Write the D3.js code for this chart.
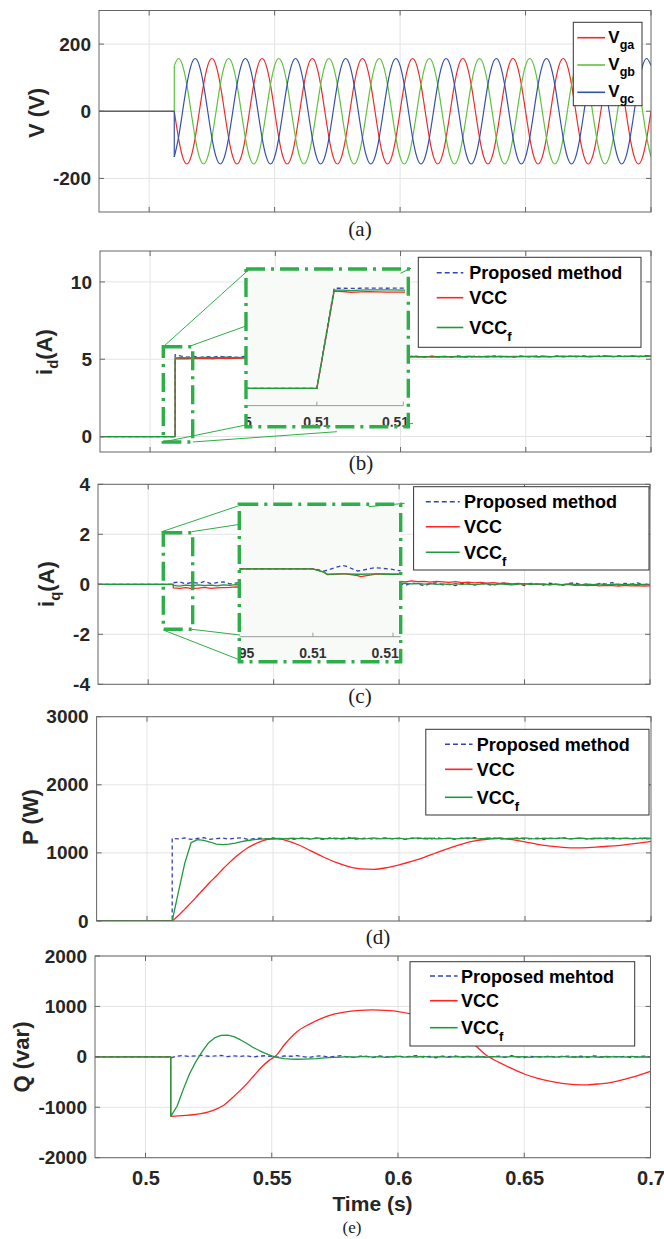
<!DOCTYPE html>
<html><head><meta charset="utf-8">
<script src="https://cdn.jsdelivr.net/npm/d3@7"></script>
<style>body{margin:0;background:#fff}svg{display:block}</style>
</head><body><svg id="c" width="664" height="1239"></svg>
<script>
// ---------------- DATA ----------------
const xDomain = [0.48, 0.70];
const xTickVals = [0.5, 0.55, 0.6, 0.65, 0.7];
const xTickLabels = ["0.5", "0.55", "0.6", "0.65", "0.7"];
const preT = [0.48, 0.51];             // all signals are zero before switching on

// (a) grid voltages, sampled every 1/600 s from 0.51 s
const vT0 = 0.51, vDt = 1 / 600;
const vga = [
0,-79,-136,-157,-136,-79,0,79,136,157,136,79,
0,-79,-136,-157,-136,-79,0,79,136,157,136,79,
0,-79,-136,-157,-136,-79,0,79,136,157,136,79,
0,-79,-136,-157,-136,-79,0,79,136,157,136,79,
0,-79,-136,-157,-136,-79,0,79,136,157,136,79,
0,-79,-136,-157,-136,-79,0,79,136,157,136,79,
0,-79,-136,-157,-136,-79,0,79,136,157,136,79,
0,-79,-136,-157,-136,-79,0,79,136,157,136,79,
0,-79,-136,-157,-136,-79,0,79,136,157,136,79,
0,-79,-136,-157,-136,-79,0];
const vgb = [
136,157,136,79,0,-79,-136,-157,-136,-79,0,79,
136,157,136,79,0,-79,-136,-157,-136,-79,0,79,
136,157,136,79,0,-79,-136,-157,-136,-79,0,79,
136,157,136,79,0,-79,-136,-157,-136,-79,0,79,
136,157,136,79,0,-79,-136,-157,-136,-79,0,79,
136,157,136,79,0,-79,-136,-157,-136,-79,0,79,
136,157,136,79,0,-79,-136,-157,-136,-79,0,79,
136,157,136,79,0,-79,-136,-157,-136,-79,0,79,
136,157,136,79,0,-79,-136,-157,-136,-79,0,79,
136,157,136,79,0,-79,-136];
const vgc = [
-136,-79,0,79,136,157,136,79,0,-79,-136,-157,
-136,-79,0,79,136,157,136,79,0,-79,-136,-157,
-136,-79,0,79,136,157,136,79,0,-79,-136,-157,
-136,-79,0,79,136,157,136,79,0,-79,-136,-157,
-136,-79,0,79,136,157,136,79,0,-79,-136,-157,
-136,-79,0,79,136,157,136,79,0,-79,-136,-157,
-136,-79,0,79,136,157,136,79,0,-79,-136,-157,
-136,-79,0,79,136,157,136,79,0,-79,-136,-157,
-136,-79,0,79,136,157,136,79,0,-79,-136,-157,
-136,-79,0,79,136,157,136];
const vTicks = [-200, 0, 200];

// sampling grid for (b)-(e) measured signals: 0.51 .. 0.70 s every 2.5 ms
const gT0 = 0.51, gDt = 0.0025;

// (b) i_d
const idProp = [
5.30,5.20,5.14,5.18,5.12,5.17,5.13,5.19,5.14,5.16,
5.12,5.18,5.15,5.13,5.19,5.14,5.17,5.12,5.18,5.15,
5.13,5.19,5.16,5.12,5.18,5.14,5.17,5.13,5.20,5.15,
5.12,5.18,5.16,5.13,5.19,5.15,5.17,5.13,5.21,5.16,
5.14,5.20,5.15,5.18,5.13,5.21,5.16,5.14,5.20,5.17,
5.15,5.22,5.16,5.19,5.14,5.21,5.17,5.15,5.22,5.18,
5.16,5.21,5.17,5.20,5.15,5.22,5.18,5.16,5.23,5.19,
5.17,5.22,5.18,5.21,5.16,5.23,5.20];
const idVcc = [
5.02,5.04,5.03,5.06,5.04,5.05,5.03,5.07,5.05,5.06,
5.06,5.08,5.07,5.09,5.08,5.10,5.09,5.11,5.10,5.12,
5.11,5.12,5.13,5.12,5.14,5.13,5.14,5.15,5.13,5.16,
5.14,5.15,5.17,5.15,5.16,5.14,5.17,5.15,5.18,5.16,
5.15,5.18,5.16,5.17,5.15,5.18,5.16,5.19,5.17,5.16,
5.18,5.17,5.19,5.16,5.18,5.17,5.19,5.18,5.16,5.19,
5.17,5.18,5.20,5.17,5.19,5.18,5.16,5.19,5.18,5.20,
5.17,5.19,5.18,5.20,5.18,5.19,5.20];
const idVccf = [
5.08,5.10,5.09,5.11,5.10,5.12,5.10,5.11,5.13,5.11,
5.12,5.10,5.13,5.12,5.11,5.14,5.12,5.13,5.11,5.14,
5.13,5.12,5.15,5.13,5.14,5.12,5.15,5.13,5.14,5.16,
5.13,5.15,5.14,5.16,5.13,5.15,5.17,5.14,5.16,5.15,
5.17,5.14,5.16,5.18,5.15,5.17,5.16,5.18,5.15,5.17,
5.19,5.16,5.18,5.17,5.15,5.18,5.17,5.19,5.16,5.18,
5.17,5.19,5.16,5.18,5.20,5.17,5.19,5.18,5.17,5.20,
5.18,5.19,5.17,5.20,5.18,5.19,5.21];
const idTicks = [0, 5, 10];
// (b) zoom inset
const idInsetT    = [0.50959, 0.51, 0.5101, 0.51015, 0.5102, 0.51025, 0.5103, 0.5104, 0.51051];
const idInsetProp = [0, 0, 5.20, 5.20, 5.19, 5.20, 5.21, 5.20, 5.21];
const idInsetVcc  = [0, 0, 5.05, 5.03, 4.98, 5.01, 5.02, 5.00, 5.00];
const idInsetVccf = [0, 0, 5.10, 5.10, 5.08, 5.10, 5.12, 5.11, 5.10];
const insetTicks = [0.5095, 0.51, 0.5105];
const insetTickLabels = ["0.5095", "0.51", "0.5105"];

// (c) i_q
const iqProp = [
0.06,0.10,0.02,0.08,0.04,0.12,0.03,0.07,0.10,0.02,
0.05,0.09,0.01,0.06,0.08,0.03,0.07,0.02,0.05,0.09,
0.03,0.06,-0.01,0.05,0.08,0.02,0.04,-0.02,0.06,0.03,
0.01,0.05,-0.03,0.04,0.07,0.00,0.03,-0.04,0.05,0.02,
-0.06,0.03,0.06,-0.02,0.01,-0.05,0.04,0.02,-0.03,0.05,
0.00,-0.04,0.03,0.06,-0.02,0.02,-0.05,0.04,0.01,-0.03,
0.05,0.00,-0.04,0.03,0.06,-0.02,0.02,-0.05,0.04,0.01,
0.07,-0.03,0.04,0.00,0.06,-0.02,0.03];
const iqVcc = [
-0.14,-0.16,-0.13,-0.17,-0.15,-0.12,-0.16,-0.14,-0.13,
-0.12,-0.10,-0.11,-0.08,-0.07,-0.05,-0.04,
-0.02,0,0.02,0.03,0.05,0.06,0.07,0.08,0.09,0.10,0.10,0.11,0.11,0.12,0.12,0.12,0.13,0.12,0.13,0.12,
0.13,0.10,0.14,0.11,0.12,0.09,0.12,0.10,0.08,0.11,
0.07,0.09,0.06,0.08,0.05,0.07,0.04,0.05,0.02,0.04,
0.01,0.03,0.00,0.02,-0.01,0.01,-0.03,0.00,-0.04,-0.02,
-0.05,-0.03,-0.06,-0.04,-0.05,-0.07,-0.04,-0.06,-0.05,-0.07,
-0.06];
const iqVccf = [
-0.04,-0.07,-0.03,-0.06,-0.02,-0.05,-0.03,-0.06,-0.02,-0.04,
-0.01,-0.03,0.00,-0.02,0.01,-0.01,0.02,0.00,0.01,0.03,
0.01,0.02,0.00,0.03,0.01,0.02,0.04,0.01,0.03,0.02,
0.04,0.02,0.05,0.03,0.04,0.06,0.03,0.05,0.02,0.04,
0.01,0.03,0.00,0.02,-0.01,0.03,0.00,0.02,-0.02,0.01,
0.03,-0.01,0.02,0.00,-0.02,0.01,0.03,-0.01,0.02,0.00,
-0.02,0.01,-0.01,0.02,0.00,-0.03,0.01,-0.01,0.02,-0.02,
0.00,0.01,-0.02,0.01,-0.01,0.00,-0.01];
const iqTicks = [-4, -2, 0, 2, 4];
const iqInsetT    = [0.50954, 0.51, 0.510069, 0.51009, 0.510184, 0.510205, 0.510279, 0.510299, 0.510383, 0.510393, 0.510487, 0.51055];
const iqInsetProp = [0, 0, -0.065, -0.04, 0.10, 0.08, -0.065, -0.05, 0.03, 0.03, -0.01, -0.06];
const iqInsetVcc  = [0, 0, -0.10, -0.17, -0.15, -0.15, -0.20, -0.23, -0.16, -0.15, -0.16, -0.16];
const iqInsetVccf = [0, 0, -0.10, -0.16, -0.15, -0.15, -0.16, -0.16, -0.15, -0.15, -0.16, -0.155];

// (d) active power
const pProp = [
1215,1205,1220,1198,1212,1225,1200,1210,1218,1203,
1214,1222,1199,1209,1216,1204,1220,1207,1213,1198,
1211,1223,1205,1215,1200,1219,1208,1212,1226,1203,
1210,1217,1201,1214,1221,1206,1212,1199,1218,1209,
1215,1203,1222,1208,1213,1200,1217,1210,1224,1205,
1212,1219,1202,1214,1208,1222,1204,1211,1217,1200,
1215,1209,1223,1206,1213,1219,1203,1210,1216,1207,
1221,1205,1214,1209,1218,1204,1212];
const pVccf = [
0,430,850,1150,1195,1185,1160,1128,1122,1128,1145,1165,1182,1195,1203,1206,1208,
1212,1205,1218,1209,1214,1203,1220,1208,1211,1216,
1204,1213,1219,1207,1210,1222,1206,1214,1209,1217,
1203,1212,1220,1208,1215,1205,1211,1218,1207,1213,
1221,1209,1204,1216,1210,1219,1206,1213,1208,1222,
1211,1205,1217,1209,1214,1220,1207,1212,1218,1206,
1215,1210,1221,1208,1213,1217,1205,1211,1219,1214];
const pVccT = [0.51,0.5125,0.515,0.5175,0.52,0.5225,0.525,0.5275,0.53,0.5325,0.535,0.5375,0.54,0.5425,0.545,0.5475,0.55,0.5525,0.555,
  0.56,0.565,0.57,0.575,0.58,0.585,0.59,0.595,0.6,0.605,0.61,0.615,0.62,0.625,0.63,0.635,0.64,0.645,0.65,0.655,0.66,0.665,0.67,0.675,0.68,0.685,0.69,0.695,0.7];
const pVcc = [0,80,175,270,370,470,570,660,760,850,935,1010,1075,1125,1165,1195,1208,1205,1185,
  1120,1030,940,860,800,765,758,782,825,875,935,1005,1070,1130,1175,1200,1212,1195,1162,1125,1098,1082,1074,1078,1090,1102,1122,1145,1168];
const pTicks = [0, 1000, 2000, 3000];

// (e) reactive power
const qProp = [
-20,15,25,8,22,30,12,18,28,5,
20,10,25,-5,15,22,8,-8,18,12,
25,3,-10,15,20,-5,10,22,0,-12,
15,8,-15,20,5,-8,18,-3,12,25,
-5,10,-18,15,3,20,-10,8,-2,18,
-12,5,15,-8,22,0,-15,10,4,-6,
18,-10,8,15,-4,12,-12,20,2,-8,
14,-5,10,-15,6,16,-3];
const qVccf = [
-1180,-980,-640,-330,-90,110,280,380,425,430,
400,340,270,190,125,70,20,-15,-35,-45,
-48,-45,-40,-35,-25,-15,-10,
-5,5,-8,3,10,-4,6,-10,2,8,
-6,4,-3,9,-7,1,6,-9,3,-2,
7,-5,2,-8,5,0,-6,8,-3,4,
-9,6,-1,3,-7,9,-4,2,-6,5,
0,-8,7,-2,4,-5,8,-3,1,-6];
const qVccT = [0.51,0.513,0.516,0.519,0.522,0.525,0.528,0.531,0.534,0.537,0.54,0.543,0.546,0.549,0.552,0.555,
  0.56,0.565,0.57,0.575,0.58,0.585,0.59,0.595,0.6,0.605,0.61,0.615,0.62,0.625,0.63,0.635,0.64,0.645,0.65,0.655,0.66,0.665,0.67,0.675,0.68,0.685,0.69,0.695,0.7];
const qVcc = [-1180,-1172,-1162,-1148,-1125,-1090,-1035,-960,-830,-690,-540,-370,-200,-70,40,240,
  500,650,766,850,897,922,931,920,897,850,766,665,545,410,250,30,-110,-230,-340,-420,-480,-525,-550,-555,-535,-500,-440,-370,-290];
const qTicks = [-2000, -1000, 0, 1000, 2000];

// zoom annotations (main-axis data coordinates)
const idZoomBox   = [0.50527, 0.51701, -0.353, 5.81];
const idInsetBox  = [0.53829, 0.6031, 0.636, 10.836];
const idConnectors = [
  [[0.50527, 5.81], [0.54029, 10.92]],
  [[0.51526, 5.81], [0.5383, 7.15]],
  [[0.50527, -0.353], [0.5382, 0.746]],
  [[0.51705, -0.353], [0.57459, 0.313]],
  [[0.59994, 10.56], [0.60418, 10.88]],
  [[0.6025, 0.79], [0.60498, 0.856]]];
const iqZoomBox   = [0.50602, 0.51774, -1.8, 2.064];
const iqInsetBox  = [0.53631, 0.60064, -3.096, 3.2];
const iqConnectors = [
  [[0.50539, 2.104], [0.53898, 3.24]],
  [[0.51734, 2.104], [0.53659, 2.4]],
  [[0.50602, -1.828], [0.53659, -3.028]],
  [[0.51734, -1.8], [0.53659, -2.028]],
  [[0.58785, 3.104], [0.60223, 3.24]]];

const legendNames = ["Proposed method", "VCC", "VCC"];
const legendNamesE = ["Proposed mehtod", "VCC", "VCC"];

// ---------------- DRAWING ----------------
const svg = d3.select('#c');
const FONT = '"Liberation Sans", Arial, Helvetica, sans-serif';
const SERIF = '"Liberation Serif", "Times New Roman", serif';
const AXC = '#666', GRIDC = '#e4e4e4', TXT = '#262626';
const C_RED = '#ff2424', C_GREEN = '#1e9a3c', C_BLUE = '#3444b4';
const C_VA = '#ee2a2a', C_VB = '#5ec23c', C_VC = '#3450aa';
const ZC = '#2eae48';
let clipId = 0;

const gridSeries = vals => vals.map((v, i) => [gT0 + i * gDt, v]);
const zip = (ts, vs) => ts.map((t, i) => [t, vs[i]]);
const pre = () => preT.map(t => [t, 0]);

function makePanel(p) {
  const x = d3.scaleLinear().domain(xDomain).range([p.left, p.right]);
  const y = d3.scaleLinear().domain(p.yDomain).range([p.bottom, p.top]);
  const g = svg.append('g');
  g.append('g').selectAll('line').data(xTickVals.slice(0, 4)).join('line')
    .attr('x1', d => x(d)).attr('x2', d => x(d)).attr('y1', p.top).attr('y2', p.bottom)
    .attr('stroke', GRIDC).attr('stroke-width', 1);
  g.append('g').selectAll('line').data(p.yTicks).join('line')
    .attr('x1', p.left).attr('x2', p.right).attr('y1', d => y(d)).attr('y2', d => y(d))
    .attr('stroke', GRIDC).attr('stroke-width', 1);
  const id = 'clp' + (clipId++);
  svg.append('clipPath').attr('id', id).append('rect')
    .attr('x', p.left).attr('y', p.top).attr('width', p.right - p.left).attr('height', p.bottom - p.top);
  const data = g.append('g').attr('clip-path', `url(#${id})`);
  return { x, y, g, data, p };
}

function drawLine(P, pts, color, o = {}, layer) {
  const line = d3.line().x(d => P.x(d[0])).y(d => P.y(d[1])).curve(o.curve || d3.curveLinear);
  (layer || P.data).append('path').attr('d', line(pts)).attr('fill', 'none')
    .attr('stroke', color).attr('stroke-width', o.w || 1.3)
    .attr('stroke-dasharray', o.dash || null).attr('stroke-linejoin', 'round');
}

function finishPanel(P, xLabels) {
  const { x, y, g, p } = P;
  const f = g.append('g');
  f.append('rect').attr('x', p.left).attr('y', p.top).attr('width', p.right - p.left).attr('height', p.bottom - p.top)
    .attr('fill', 'none').attr('stroke', AXC).attr('stroke-width', 1);
  p.yTicks.forEach(v => {
    f.append('line').attr('x1', p.left).attr('x2', p.left + 5).attr('y1', y(v)).attr('y2', y(v)).attr('stroke', AXC);
    f.append('line').attr('x1', p.right - 5).attr('x2', p.right).attr('y1', y(v)).attr('y2', y(v)).attr('stroke', AXC);
  });
  xTickVals.forEach(v => {
    f.append('line').attr('x1', x(v)).attr('x2', x(v)).attr('y1', p.bottom).attr('y2', p.bottom - 5).attr('stroke', AXC);
    f.append('line').attr('x1', x(v)).attr('x2', x(v)).attr('y1', p.top).attr('y2', p.top + 5).attr('stroke', AXC);
  });
  const ay = f.append('g').attr('transform', `translate(${p.left},0)`)
    .call(d3.axisLeft(y).tickValues(p.yTicks).tickFormat(d => String(d)).tickSize(0).tickPadding(8));
  ay.select('.domain').remove();
  ay.selectAll('text').attr('font-family', FONT).attr('font-weight', 'bold').attr('font-size', 19).attr('fill', TXT);
  if (xLabels) {
    const ax = f.append('g').attr('transform', `translate(0,${p.bottom})`)
      .call(d3.axisBottom(x).tickValues(xTickVals).tickFormat((d, i) => xLabels[i]).tickSize(0).tickPadding(13));
    ax.select('.domain').remove();
    ax.selectAll('text').attr('font-family', FONT).attr('font-weight', 'bold').attr('font-size', 20).attr('fill', TXT);
  }
}

function yLabel(cx, cy, parts) {
  const t = svg.append('text').attr('transform', `translate(${cx},${cy}) rotate(-90)`)
    .attr('text-anchor', 'middle').attr('font-family', FONT).attr('font-weight', 'bold')
    .attr('font-size', 22).attr('fill', TXT);
  parts.forEach(pt => {
    t.append('tspan').text(pt.t).attr('font-size', pt.fs || null).attr('dy', pt.dy || null);
  });
}

function panelLabel(cx, base, s, fs) {
  svg.append('text').attr('x', cx).attr('y', base).attr('text-anchor', 'middle')
    .attr('font-family', SERIF).attr('font-size', fs || 21).attr('fill', '#1a1a1a').text(s);
}

function legend(L) {
  const g = svg.append('g');
  g.append('rect').attr('x', L.box[0]).attr('y', L.box[1]).attr('width', L.box[2] - L.box[0]).attr('height', L.box[3] - L.box[1])
    .attr('fill', '#fff').attr('stroke', '#333').attr('stroke-width', 1);
  L.rows.forEach(r => {
    g.append('line').attr('x1', L.lx[0]).attr('x2', L.lx[1]).attr('y1', r.y).attr('y2', r.y)
      .attr('stroke', r.color).attr('stroke-width', 1.6).attr('stroke-dasharray', r.dash || null);
    const t = g.append('text').attr('x', L.tx).attr('y', r.y + L.dy).attr('font-family', FONT)
      .attr('font-weight', 'bold').attr('font-size', L.fs).attr('fill', '#000');
    t.append('tspan').text(r.label);
    if (r.sub) t.append('tspan').text(r.sub).attr('font-size', L.subFs).attr('dy', L.subDy);
  });
}

function dashRect(layer, x0, y0, x1, y1) {
  layer.append('rect').attr('x', x0).attr('y', y0).attr('width', x1 - x0).attr('height', y1 - y0)
    .attr('fill', 'none').attr('stroke', ZC).attr('stroke-width', 3.4).attr('stroke-dasharray', '19,6,3,6');
}

function drawInset(P, I) {
  const [t0, t1, v0, v1] = I.box;
  const [T0, T1, V0, V1] = I.inset;
  const bx0 = P.x(T0), bx1 = P.x(T1), by0 = P.y(V1), by1 = P.y(V0);
  const g = P.g.append('g');
  g.append('rect').attr('x', bx0).attr('y', by0).attr('width', bx1 - bx0).attr('height', by1 - by0).attr('fill', '#f8faf8');
  const axY = P.y(I.axisV);
  const ix = d3.scaleLinear().domain(I.xDomain).range([bx0, P.x(I.axisT1)]);
  const iy = d3.scaleLinear().domain(I.yDomain).range([axY, by0]);
  const id = 'clp' + (clipId++);
  svg.append('clipPath').attr('id', id).append('rect').attr('x', bx0).attr('y', by0).attr('width', bx1 - bx0).attr('height', by1 - by0);
  const ig = g.append('g').attr('clip-path', `url(#${id})`);
  ig.append('line').attr('x1', bx0).attr('x2', P.x(I.axisT1)).attr('y1', axY).attr('y2', axY).attr('stroke', '#9a9a9a');
  I.ticks.forEach((t, i) => {
    ig.append('line').attr('x1', ix(t)).attr('x2', ix(t)).attr('y1', axY).attr('y2', axY - 4).attr('stroke', '#9a9a9a');
    ig.append('text').attr('x', ix(t)).attr('y', axY + 21).attr('text-anchor', 'middle').attr('font-family', FONT)
      .attr('font-weight', 'bold').attr('font-size', 14).attr('fill', '#333').text(I.tickLabels[i]);
  });
  const line = d3.line().x(d => ix(d[0])).y(d => iy(d[1]));
  I.series.forEach(s => {
    ig.append('path').attr('d', line(zip(I.t, s.v))).attr('fill', 'none').attr('stroke', s.color)
      .attr('stroke-width', 1.3).attr('stroke-dasharray', s.dash || null);
  });
  I.connectors.forEach(c => {
    g.append('line').attr('x1', P.x(c[0][0])).attr('y1', P.y(c[0][1])).attr('x2', P.x(c[1][0])).attr('y2', P.y(c[1][1]))
      .attr('stroke', ZC).attr('stroke-width', 1);
  });
  dashRect(g, P.x(t0), P.y(v1), P.x(t1), P.y(v0));
  dashRect(g, bx0, by0, bx1, by1);
}

// ----- (a) -----
const A = makePanel({ left: 99, right: 651, top: 10.5, bottom: 212, yDomain: [-300, 300], yTicks: vTicks });
[[vga, C_VA], [vgb, C_VB], [vgc, C_VC]].forEach(([vals, col]) => {
  drawLine(A, pre().concat([[vT0, vals[0]]]), col, { w: 1.2 });
  drawLine(A, vals.map((v, i) => [vT0 + i * vDt, v]), col, { w: 1.2, curve: d3.curveNatural });
});
legend({ box: [573.3, 22.3, 642, 105.7], lx: [577.3, 605], tx: 608.3, dy: 5, fs: 17, subFs: 12.5, subDy: 6,
  rows: [{ y: 37.7, color: C_VA, label: 'V', sub: 'ga' }, { y: 65, color: C_VB, label: 'V', sub: 'gb' }, { y: 92.3, color: C_VC, label: 'V', sub: 'gc' }] });
finishPanel(A);
yLabel(43.5, 113, [{ t: 'V (V)' }]);
panelLabel(360, 236, '(a)');

// ----- (b) -----
const B = makePanel({ left: 100, right: 651, top: 251, bottom: 452, yDomain: [-1, 12], yTicks: idTicks });
drawLine(B, pre().concat(gridSeries(idProp)), C_BLUE, { dash: '4,3' });
drawLine(B, pre().concat(gridSeries(idVcc)), C_RED);
drawLine(B, pre().concat(gridSeries(idVccf)), C_GREEN);
drawInset(B, { box: idZoomBox, inset: idInsetBox, axisV: 2.0, axisT1: 0.6011,
  xDomain: [0.50959, 0.5105], yDomain: [-0.9, 6.2], ticks: insetTicks, tickLabels: insetTickLabels,
  t: idInsetT, connectors: idConnectors,
  series: [{ v: idInsetProp, color: C_BLUE, dash: '4,3' }, { v: idInsetVcc, color: C_RED }, { v: idInsetVccf, color: C_GREEN }] });
legend({ box: [418.3, 257.3, 641, 347.3], lx: [436.7, 463.3], tx: 469.3, dy: 6.5, fs: 18, subFs: 13, subDy: 7,
  rows: [{ y: 272.7, color: C_BLUE, dash: '5,3', label: legendNames[0] }, { y: 297.7, color: C_RED, label: legendNames[1] },
         { y: 327.5, color: C_GREEN, label: legendNames[2], sub: 'f' }] });
finishPanel(B);
yLabel(52, 352, [{ t: 'i' }, { t: 'd', fs: 15, dy: 6 }, { t: '(A)', dy: -6 }]);
panelLabel(361, 470, '(b)');

// ----- (c) -----
const Cp = makePanel({ left: 98, right: 650, top: 484.3, bottom: 684.3, yDomain: [-4, 4], yTicks: iqTicks });
drawLine(Cp, pre().concat(gridSeries(iqProp)), C_BLUE, { dash: '4,3' });
drawLine(Cp, pre().concat(gridSeries(iqVcc)), C_RED);
drawLine(Cp, pre().concat(gridSeries(iqVccf)), C_GREEN);
drawInset(Cp, { box: iqZoomBox, inset: iqInsetBox, axisV: -2.096, axisT1: 0.60076,
  xDomain: [0.50954, 0.51055], yDomain: [-1.98, 1.88], ticks: insetTicks, tickLabels: insetTickLabels,
  t: iqInsetT, connectors: iqConnectors,
  series: [{ v: iqInsetProp, color: C_BLUE, dash: '4,3' }, { v: iqInsetVcc, color: C_RED }, { v: iqInsetVccf, color: C_GREEN }] });
legend({ box: [413.6, 486.7, 649, 570], lx: [425.8, 459.7], tx: 464, dy: 6.5, fs: 18, subFs: 13, subDy: 7,
  rows: [{ y: 501.7, color: C_BLUE, dash: '5,3', label: legendNames[0] }, { y: 526.7, color: C_RED, label: legendNames[1] },
         { y: 552.3, color: C_GREEN, label: legendNames[2], sub: 'f' }] });
finishPanel(Cp);
yLabel(54, 584, [{ t: 'i' }, { t: 'q', fs: 15, dy: 6 }, { t: '(A)', dy: -6 }]);
panelLabel(360, 703, '(c)');

// ----- (d) -----
const D = makePanel({ left: 96.6, right: 651, top: 716.7, bottom: 921, yDomain: [0, 3000], yTicks: pTicks });
drawLine(D, pre().concat(gridSeries(pProp)), C_BLUE, { dash: '4,3' });
drawLine(D, pre(), C_RED);
drawLine(D, zip(pVccT, pVcc), C_RED, { curve: d3.curveMonotoneX });
drawLine(D, pre().concat(gridSeries(pVccf)), C_GREEN);
legend({ box: [425.8, 729.3, 649, 815], lx: [445, 472.5], tx: 476.7, dy: 6.5, fs: 18, subFs: 13, subDy: 7,
  rows: [{ y: 744.3, color: C_BLUE, dash: '5,3', label: legendNames[0] }, { y: 769.3, color: C_RED, label: legendNames[1] },
         { y: 797.3, color: C_GREEN, label: legendNames[2], sub: 'f' }] });
finishPanel(D);
yLabel(38, 817, [{ t: 'P (W)' }]);
panelLabel(378, 944, '(d)');

// ----- (e) -----
const E = makePanel({ left: 95, right: 650.5, top: 956, bottom: 1157.7, yDomain: [-2000, 2000], yTicks: qTicks });
drawLine(E, pre().concat(gridSeries(qProp)), C_BLUE, { dash: '4,3' });
drawLine(E, pre().concat([[qVccT[0], qVcc[0]]]), C_RED);
drawLine(E, zip(qVccT, qVcc), C_RED, { curve: d3.curveMonotoneX });
drawLine(E, pre().concat(gridSeries(qVccf)), C_GREEN);
legend({ box: [410, 961.7, 634.7, 1046], lx: [430, 457.6], tx: 461, dy: 6.5, fs: 18, subFs: 13, subDy: 7,
  rows: [{ y: 976, color: C_BLUE, dash: '5,3', label: legendNamesE[0] }, { y: 1000.7, color: C_RED, label: legendNamesE[1] },
         { y: 1027.7, color: C_GREEN, label: legendNamesE[2], sub: 'f' }] });
finishPanel(E, xTickLabels);
yLabel(29, 1057, [{ t: 'Q (var)' }]);
svg.append('text').attr('x', 372.5).attr('y', 1211).attr('text-anchor', 'middle').attr('font-family', FONT)
  .attr('font-weight', 'bold').attr('font-size', 21).attr('fill', TXT).text('Time (s)');
panelLabel(352, 1233, '(e)', 17);
</script></body></html>
